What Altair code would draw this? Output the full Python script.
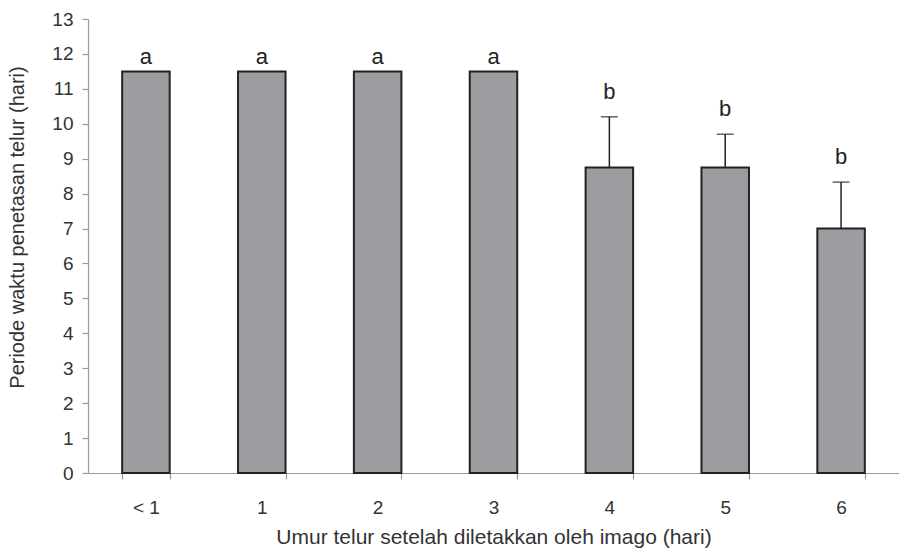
import altair as alt
import pandas as pd

# Egg age after oviposition (days) vs. hatching period (days)
umur = ["< 1", "1", "2", "3", "4", "5", "6"]
periode = [11.5, 11.5, 11.5, 11.5, 8.75, 8.75, 7.0]
sd = [0, 0, 0, 0, 1.45, 0.95, 1.33]
huruf = ["a", "a", "a", "a", "b", "b", "b"]
y_ticks = list(range(0, 14))

df = pd.DataFrame({"umur": umur, "periode": periode, "sd": sd, "huruf": huruf})
df["atas"] = df["periode"] + df["sd"]

FONT = "Liberation Sans"
TXT = "#333333"
AXC = "#9a9a9a"

x_axis = alt.Axis(
    title="Umur telur setelah diletakkan oleh imago (hari)",
    labelAngle=0,
    tickBand="extent",
    tickSize=6,
    tickColor=AXC,
    tickWidth=1.2,
    domainColor=AXC,
    domainWidth=1.2,
    labelFont=FONT,
    labelFontSize=19,
    labelColor=TXT,
    labelPadding=19,
    titleFont=FONT,
    titleFontSize=21,
    titleFontWeight="normal",
    titleColor=TXT,
    titlePadding=9,
)

y_axis = alt.Axis(
    title="Periode waktu penetasan telur (hari)",
    values=y_ticks,
    labelOverlap=False,
    tickSize=6,
    tickColor=AXC,
    tickWidth=1.2,
    domainColor=AXC,
    domainWidth=1.2,
    labelFont=FONT,
    labelFontSize=19,
    labelColor=TXT,
    labelPadding=9,
    titleFont=FONT,
    titleFontSize=20,
    titleFontWeight="normal",
    titleColor=TXT,
    titlePadding=24,
    titleY=208,
    grid=False,
)

x_enc = alt.X(
    "umur:N",
    sort=umur,
    scale=alt.Scale(paddingInner=0.59, paddingOuter=0.295),
    axis=x_axis,
)
y_scale = alt.Scale(domain=[0, 13], nice=False)


def y_enc(field):
    return alt.Y(field, type="quantitative", scale=y_scale, axis=y_axis)


bars = alt.Chart(df).mark_bar(
    color="#9c9da1", stroke="#222222", strokeWidth=2
).encode(x=x_enc, y=y_enc("periode"))

err_df = alt.Chart(df).transform_filter("datum.sd > 0")

err_line = err_df.mark_rule(color="#222222", strokeWidth=1.5).encode(
    x=x_enc, y=y_enc("periode"), y2="atas:Q"
)
err_cap = err_df.mark_tick(color="#222222", thickness=1.5, size=17).encode(
    x=x_enc, y=y_enc("atas")
)

# significance letters above each bar (or above its error bar)
lbl_a = alt.Chart(df).transform_filter("datum.sd == 0").mark_text(
    font=FONT, fontSize=22, color="#222222", baseline="alphabetic", dy=-7
).encode(x=x_enc, y=y_enc("atas"), text="huruf:N")

lbl_b = alt.Chart(df).transform_filter("datum.sd > 0").mark_text(
    font=FONT, fontSize=22, color="#222222", baseline="alphabetic", dy=-18
).encode(x=x_enc, y=y_enc("atas"), text="huruf:N")

chart = (
    alt.layer(bars, err_line, err_cap, lbl_a, lbl_b)
    .properties(
        width=811,
        height=454,
        autosize=alt.AutoSizeParams(type="none"),
        padding={"left": 88, "top": 19, "right": 0, "bottom": 77},
    )
    .configure_view(stroke=None)
)

chart.save("out.html", embed_options={"renderer": "svg", "actions": False})
